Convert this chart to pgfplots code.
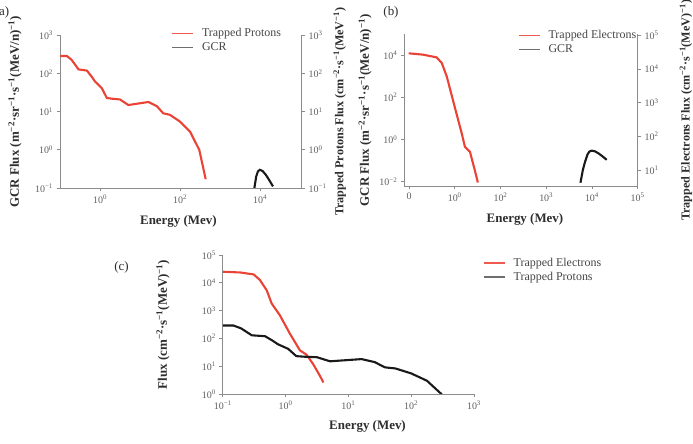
\documentclass[border=0pt]{standalone}
\usepackage{fontspec}
\setmainfont{Liberation Serif}
\usepackage{pgfplots}
\pgfplotsset{compat=1.18}

\definecolor{redline}{RGB}{234,67,53}
\definecolor{blackline}{RGB}{25,25,25}
\definecolor{legred}{RGB}{238,90,78}
\definecolor{leggray}{RGB}{110,110,110}
\definecolor{axgray}{RGB}{140,140,140}
\definecolor{tickgray}{RGB}{95,95,95}
\definecolor{labgray}{RGB}{45,45,45}
\definecolor{legtext}{RGB}{70,70,70}
\newcommand{\sups}[1]{\textsuperscript{#1}}
\newcommand{\legt}[1]{\fontsize{12}{14}\selectfont\color{legtext}#1}

\tikzset{
 redp/.style={draw=redline, line width=2.1bp},
 blkp/.style={draw=blackline, line width=2.1bp},
 labfont/.style={font=\fontsize{13}{15}\selectfont\bfseries, text=labgray},
 rlabfont/.style={font=\fontsize{12.2}{14}\selectfont\bfseries, text=labgray},
}
\pgfplotsset{
 redleg/.style={legend image code/.code={\draw[draw=legred, line width=1.2bp] (0bp,0bp) -- (21bp,0bp);}},
 blkleg/.style={legend image code/.code={\draw[draw=leggray, line width=1.2bp] (0bp,0bp) -- (21bp,0bp);}},
}
\pgfplotsset{every axis/.append style={scale only axis, clip mode=individual,
  axis line style={draw=axgray, line width=0.8bp},
  tick style={draw=axgray, line width=0.8bp},
  tick align=outside, major tick length=3.5bp,
  tick label style={font=\fontsize{10}{12}\selectfont, text=tickgray},
  legend style={draw=none, fill=none, inner sep=0pt, row sep=1bp,
    nodes={inner sep=1bp, text height=8.5bp, text depth=2.5bp},
    /tikz/every odd column/.style={column sep=7bp}},
  legend cell align=left}}

\begin{document}
\begin{tikzpicture}[x=1bp,y=1bp]
\path[use as bounding box] (0,0) rectangle (693,444);

% ---------------- panel a ----------------
\begin{axis}[xmode=log, ymode=log, xminorticks=false, yminorticks=false,
  at={(60bp,256bp)}, anchor=south west, width=241.7bp, height=152.5bp,
  xmin=0.1, xmax=109648, ymin=0.1, ymax=1000,
  axis x line*=bottom, axis y line*=left,
  xtick={1,100,10000}, xticklabels={10\sups{0},10\sups{2},10\sups{4}},
  ytick={0.1,1,10,100,1000}, yticklabels={10\sups{−1},10\sups{0},10\sups{1},10\sups{2},10\sups{3}}]
\addplot[blkp, no marks] coordinates {(5600,0.009) (6300,0.035) (6900,0.075) (7400,0.12) (8000,0.2) (8800,0.27) (9800,0.3) (11500,0.28) (14000,0.22) (17000,0.16) (21000,0.11)};
\node[labfont, rotate=90] at (axis description cs:-0.186,0.5) {GCR Flux (m\sups{−2}·sr\sups{−1}·s\sups{−1}(MeV/n)\sups{−1})};
\node[labfont] at (axis description cs:0.49,-0.22) {Energy (Mev)};
\end{axis}
\begin{axis}[xmode=log, ymode=log, xminorticks=false, yminorticks=false,
  at={(60bp,256bp)}, anchor=south west, width=241.7bp, height=152.5bp,
  xmin=0.1, xmax=109648, ymin=0.1, ymax=1000,
  axis x line=none, axis y line*=right, xtick=\empty,
  ytick={0.1,1,10,100,1000}, yticklabels={10\sups{−1},10\sups{0},10\sups{1},10\sups{2},10\sups{3}},
  legend style={at={(axis description cs:0.462,1.055)}, anchor=north west}]
\addplot[redp, no marks, forget plot] coordinates {(0.1,290) (0.148,290) (0.195,230) (0.29,129) (0.47,120) (0.62,83) (0.75,62) (1.1,42) (1.48,23) (1.95,22) (3.16,21) (5.1,15) (16.2,18) (26.3,14) (38,9.1) (56,8.3) (100,5.5) (178,3.0) (302,1.0) (437,0.17)};
\addlegendimage{redleg}
\addlegendentry{\legt{Trapped Protons}}
\addlegendimage{blkleg}
\addlegendentry{\legt{GCR}}
\node[rlabfont, rotate=90] at (axis description cs:1.157,0.5) {Trapped Protons Flux (cm\sups{−2}·s\sups{−1}(MeV\sups{−1})};
\end{axis}

% ---------------- panel b ----------------
\begin{axis}[xmode=log, ymode=log, xminorticks=false, yminorticks=false,
  at={(404.3bp,258bp)}, anchor=south west, width=233.4bp, height=151.5bp,
  xmin=0.0789, xmax=10000, ymin=0.00631, ymax=95500,
  axis x line*=bottom, axis y line*=left,
  xtick={0.1,1,10,100,1000,10000}, xticklabels={0,10\sups{0},10\sups{2},10\sups{3},10\sups{4},10\sups{5}},
  ytick={0.01,1,100,10000}, yticklabels={10\sups{−2},10\sups{0},10\sups{2},10\sups{4}}]
\addplot[blkp, no marks] coordinates {(560,0.009) (630,0.035) (690,0.075) (740,0.12) (800,0.2) (880,0.27) (980,0.3) (1150,0.28) (1400,0.22) (1700,0.16) (2100,0.11)};
\node[labfont, rotate=90] at (axis description cs:-0.168,0.5) {GCR Flux (m\sups{−2}·sr\sups{−1}·s\sups{−1}(MeV/n)\sups{−1})};
\node[labfont] at (axis description cs:0.517,-0.224) {Energy (Mev)};
\end{axis}
\begin{axis}[xmode=log, ymode=log, xminorticks=false, yminorticks=false,
  at={(404.3bp,258bp)}, anchor=south west, width=233.4bp, height=151.5bp,
  xmin=0.0789, xmax=10000, ymin=3.39, ymax=104700,
  axis x line=none, axis y line*=right, xtick=\empty,
  ytick={10,100,1000,10000,100000}, yticklabels={10\sups{1},10\sups{2},10\sups{3},10\sups{4},10\sups{5}},
  legend style={at={(axis description cs:0.488,1.036)}, anchor=north west}]
\addplot[redp, no marks, forget plot] coordinates {(0.098,29000) (0.2,26500) (0.40,22000) (0.52,15000) (0.67,5900) (1.0,740) (1.42,123) (1.67,49) (2.15,35) (2.74,10) (3.2,4.3)};
\addlegendimage{redleg}
\addlegendentry{\legt{Trapped Electrons}}
\addlegendimage{blkleg}
\addlegendentry{\legt{GCR}}
\node[rlabfont, rotate=90] at (axis description cs:1.207,0.5) {Trapped Electrons Flux (cm\sups{−2}·s\sups{−1}(MeV)\sups{−1})};
\end{axis}

% ---------------- panel c ----------------
\begin{axis}[xmode=log, ymode=log, xminorticks=false, yminorticks=false,
  at={(222.8bp,50bp)}, anchor=south west, width=251.2bp, height=139bp,
  xmin=0.1, xmax=1000, ymin=1, ymax=100000,
  axis x line*=bottom, axis y line*=left,
  xtick={0.1,1,10,100,1000}, xticklabels={10\sups{−1},10\sups{0},10\sups{1},10\sups{2},10\sups{3}},
  ytick={1,10,100,1000,10000,100000}, yticklabels={10\sups{0},10\sups{1},10\sups{2},10\sups{3},10\sups{4},10\sups{5}},
  legend style={at={(axis description cs:1.037,0.99)}, anchor=north west}]
\addplot[redp, no marks, forget plot] coordinates {(0.1,25000) (0.19,23500) (0.31,20000) (0.39,12600) (0.50,5400) (0.60,1800) (0.81,680) (1.17,148) (1.69,37) (2.15,26) (2.74,12) (3.5,4.6) (4.0,2.6)};
\addplot[blkp, no marks, forget plot] coordinates {(0.1,290) (0.148,290) (0.195,230) (0.29,129) (0.47,120) (0.62,83) (0.75,62) (1.1,42) (1.48,23) (1.95,22) (3.16,21) (5.1,15) (16.2,18) (26.3,14) (38,9.1) (56,8.3) (100,5.5) (178,3.0) (302,1.0) (437,0.17)};
\addlegendimage{redleg}
\addlegendentry{\legt{Trapped Electrons}}
\addlegendimage{blkleg}
\addlegendentry{\legt{Trapped Protons}}
\node[labfont, rotate=90] at (axis description cs:-0.238,0.5) {Flux (cm\sups{−2}·s\sups{−1}(MeV)\sups{−1})};
\node[labfont] at (axis description cs:0.576,-0.235) {Energy (Mev)};
\end{axis}

% panel tags
\node[anchor=west, font=\fontsize{13}{15}\selectfont, text=labgray, inner sep=0pt] at (-1,432) {a)};
\node[font=\fontsize{13}{15}\selectfont, text=labgray, inner sep=0pt] at (391,432) {(b)};
\node[font=\fontsize{13}{15}\selectfont, text=labgray, inner sep=0pt] at (121.5,177) {(c)};
\end{tikzpicture}
\end{document}
